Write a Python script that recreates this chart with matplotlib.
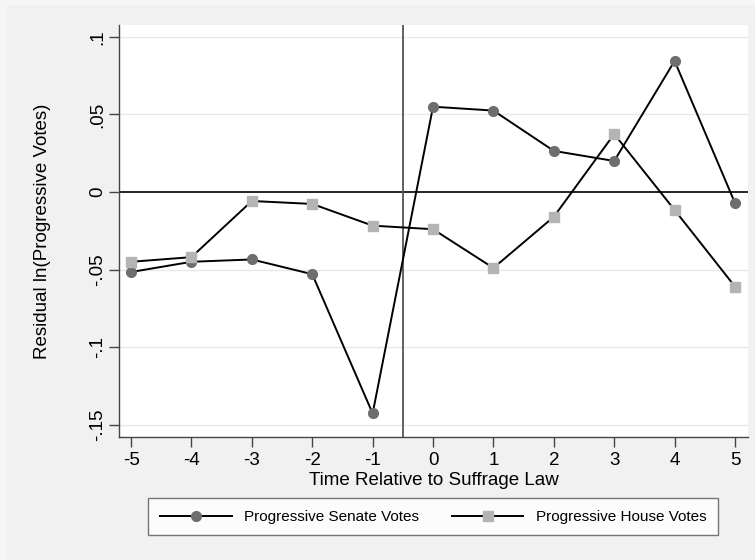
import matplotlib
matplotlib.use("Agg")
import matplotlib.pyplot as plt
from matplotlib.lines import Line2D
from matplotlib.patches import Rectangle

plt.rcParams['font.family'] = ['Liberation Sans', 'DejaVu Sans']

periods = [-5, -4, -3, -2, -1, 0, 1, 2, 3, 4, 5]
senate = [-0.0516, -0.045, -0.0435, -0.053, -0.1428, 0.055, 0.0525, 0.0265, 0.020, 0.0845, -0.0071]
house = [-0.045, -0.042, -0.0058, -0.0077, -0.0217, -0.024, -0.049, -0.016, 0.0374, -0.0116, -0.061]

y_ticks = [0.1, 0.05, 0, -0.05, -0.1, -0.15]
y_labels = ['.1', '.05', '0', '-.05', '-.1', '-.15']

bg = '#f1f1f1'
fig = plt.figure(figsize=(7.55, 5.6), dpi=100, facecolor='#f6f6f6')
# graph region background
fig.patches.append(Rectangle((7 / 755, 0), 1 - 7 / 755, 1 - 5 / 560,
                             transform=fig.transFigure, facecolor=bg,
                             edgecolor='none', zorder=-10))

ax = fig.add_axes([0.1576, 0.2196, 0.8331, 0.7358])
ax.set_facecolor('white')

ax.set_xlim(-5.2, 5.215)
ax.set_ylim(-0.158, 0.1077)

for yt in y_ticks:
    if yt != 0:
        ax.axhline(yt, color='#e8e8e8', lw=1.0, zorder=0)
ax.axhline(0, color='black', lw=1.2, zorder=1)
ax.axvline(-0.5, color='#555555', lw=1.3, zorder=1)

ax.plot(periods, senate, color='black', lw=1.4, marker='o', ms=7,
        mfc='#6e6e6e', mec='#6e6e6e', zorder=3)
ax.plot(periods, house, color='black', lw=1.4, marker='s', ms=7,
        mfc='#b4b4b4', mec='#b4b4b4', zorder=3)

ax.set_xticks(periods)
ax.set_xticklabels([str(p) for p in periods])
ax.set_yticks(y_ticks)
ax.set_yticklabels(y_labels, rotation=90, va='center')

for side in ['top', 'right']:
    ax.spines[side].set_visible(False)
for side in ['left', 'bottom']:
    ax.spines[side].set_color('#444444')
    ax.spines[side].set_linewidth(1.0)

ax.tick_params(axis='both', direction='out', length=7, width=1.0,
               color='#444444', labelsize=13.5, labelcolor='black')
ax.tick_params(axis='y', pad=2)
ax.tick_params(axis='x', pad=4)

ax.set_xlabel('Time Relative to Suffrage Law', fontsize=13.5, labelpad=2)
ax.set_ylabel('Residual ln(Progressive Votes)', fontsize=13.5, labelpad=28)

handles = [
    Line2D([], [], color='black', lw=1.4, marker='o', ms=7,
           mfc='#6e6e6e', mec='#6e6e6e'),
    Line2D([], [], color='black', lw=1.4, marker='s', ms=7,
           mfc='#b4b4b4', mec='#b4b4b4'),
]
leg = fig.legend(handles, ['Progressive Senate Votes', 'Progressive House Votes'],
                 loc='center', bbox_to_anchor=(0.5735, 0.077), ncol=2,
                 fontsize=11, frameon=True, fancybox=False, handlelength=4.7,
                 columnspacing=2.15, borderpad=0.75, handletextpad=0.8,
                 borderaxespad=0)
leg.get_frame().set_edgecolor('#555555')
leg.get_frame().set_linewidth(1.0)
leg.get_frame().set_facecolor('white')

fig.savefig('out.png', dpi=100, facecolor=fig.get_facecolor())
